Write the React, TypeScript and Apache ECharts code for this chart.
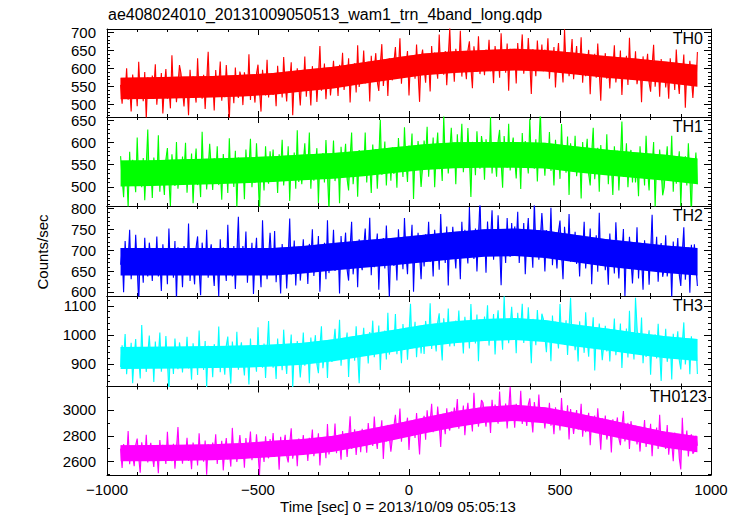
import React, { useEffect, useRef } from "react";
import * as echarts from "echarts";

// ---------------- DATA ----------------
const TITLE = "ae408024010_20131009050513_wam1_trn_4band_long.qdp";
const X_NAME = "Time [sec] 0 = 2013/10/09 05:05:13";
const Y_NAME = "Counts/sec";
const X_TICKS = [-1000, -500, 0, 500, 1000];

// light-curve samples, one every 5 s starting at t = -955 s
const TIME_START = -955;
const TIME_STEP = 5;

// sample times of the dense core outline of each trace
const BAND_T = [-955, -850, -750, -650, -550, -450, -350, -250, -150, -50, 50, 150, 250, 350, 450, 550, 650, 750, 850, 955];

const PANEL_NAMES = ["TH0", "TH1", "TH2", "TH3", "TH0123"];
const PANEL_COLORS = ["#ff0000", "#00ff00", "#0000ff", "#00ffff", "#ff00ff"];
const Y_MIN = [466, 457, 590, 822, 2497];
const Y_MAX = [710, 657, 806, 1134, 3181];
const Y_MAJOR = [
  [500, 550, 600, 650, 700],
  [500, 550, 600, 650],
  [600, 650, 700, 750, 800],
  [900, 1000, 1100],
  [2600, 2800, 3000],
];
const Y_MINOR_STEP = [10, 10, 10, 20, 100];

const th0 = [
  555, 503, 574, 531, 601, 514, 549, 481, 584, 538, 566, 496, 619, 524, 559, 510, 591, 460, 576, 535,
  521, 581, 542, 612, 500, 564, 528, 588, 476, 553, 599, 517, 546, 490, 637, 532, 571, 507, 556, 610,
  587, 538, 495, 569, 555, 471, 597, 523, 579, 544, 506, 629, 530, 562, 517, 583, 488, 566, 647, 527,
  543, 575, 484, 596, 529, 554, 620, 511, 564, 521, 610, 540, 455, 579, 560, 504, 603, 536, 519, 592,
  573, 499, 590, 559, 530, 640, 513, 576, 548, 506, 586, 611, 537, 481, 597, 555, 526, 625, 520, 569,
  587, 527, 566, 496, 608, 544, 580, 520, 632, 555, 509, 591, 562, 618, 471, 576, 537, 601, 552, 498,
  575, 543, 634, 522, 589, 564, 498, 607, 554, 597, 508, 578, 663, 539, 558, 614, 515, 582, 599, 526,
  570, 622, 551, 594, 524, 611, 576, 644, 541, 587, 559, 629, 506, 601, 566, 615, 534, 665, 549, 590,
  576, 650, 559, 590, 619, 509, 636, 573, 601, 643, 563, 538, 612, 668, 552, 594, 623, 524, 629, 580,
  568, 617, 660, 586, 600, 684, 558, 632, 576, 611, 649, 526, 625, 593, 638, 572, 667, 589, 508, 628,
  653, 604, 561, 635, 621, 537, 663, 589, 645, 610, 572, 695, 596, 628, 583, 649, 554, 632, 713, 593,
  638, 564, 655, 624, 595, 705, 578, 641, 613, 571, 651, 676, 602, 546, 662, 620, 591, 690, 585, 634,
  634, 582, 653, 610, 680, 593, 628, 560, 663, 617, 645, 575, 698, 603, 638, 589, 670, 539, 655, 614,
  618, 650, 559, 671, 604, 629, 695, 586, 639, 596, 685, 615, 530, 654, 635, 579, 678, 611, 594, 667,
  593, 653, 614, 684, 572, 636, 600, 660, 548, 625, 671, 589, 618, 562, 709, 604, 643, 579, 628, 682,
  571, 620, 663, 589, 603, 687, 561, 635, 579, 614, 652, 529, 628, 596, 641, 575, 670, 592, 511, 631,
  591, 643, 572, 615, 545, 632, 597, 665, 562, 608, 580, 650, 527, 622, 587, 636, 555, 686, 570, 611,
  574, 648, 557, 588, 617, 507, 634, 571, 599, 641, 561, 536, 610, 666, 550, 592, 621, 522, 627, 578,
  608, 548, 587, 517, 629, 565, 601, 541, 653, 576, 530, 612, 583, 639, 492, 597, 558, 622, 573, 519,
  587, 555, 646,
];
const th0CoreLo = [515, 516, 518, 520, 523, 528, 537, 545, 558, 570, 582, 588, 592, 595, 592, 584, 575, 568, 560, 550];
const th0CoreHi = [575, 576, 578, 580, 583, 588, 597, 605, 618, 630, 642, 648, 652, 655, 652, 644, 635, 628, 620, 610];

const th1 = [
  569, 520, 477, 551, 537, 453, 579, 505, 561, 526, 488, 611, 512, 544, 499, 565, 470, 548, 629, 509,
  549, 475, 566, 535, 506, 616, 489, 552, 524, 482, 562, 587, 513, 457, 573, 531, 502, 601, 496, 545,
  508, 568, 529, 599, 487, 551, 515, 575, 463, 540, 586, 504, 533, 477, 624, 519, 558, 494, 543, 597,
  545, 493, 564, 521, 591, 504, 539, 471, 574, 528, 556, 486, 609, 514, 549, 500, 581, 450, 566, 525,
  531, 563, 472, 584, 517, 542, 608, 499, 552, 509, 598, 528, 443, 567, 548, 492, 591, 524, 507, 580,
  532, 584, 513, 556, 486, 573, 538, 606, 503, 549, 521, 591, 468, 563, 528, 577, 496, 627, 511, 552,
  506, 555, 598, 524, 538, 622, 496, 570, 514, 549, 587, 464, 563, 531, 576, 510, 605, 527, 446, 566,
  530, 604, 513, 544, 573, 463, 590, 527, 555, 597, 517, 492, 566, 622, 506, 548, 577, 478, 583, 534,
  563, 531, 622, 510, 577, 552, 486, 595, 542, 585, 496, 566, 651, 527, 546, 602, 503, 570, 587, 514,
  589, 529, 568, 498, 610, 546, 582, 522, 634, 557, 511, 593, 564, 620, 473, 578, 539, 603, 554, 500,
  544, 604, 565, 635, 523, 587, 551, 611, 499, 576, 622, 540, 569, 513, 660, 555, 594, 530, 579, 633,
  565, 597, 506, 618, 551, 576, 642, 533, 586, 543, 632, 562, 477, 601, 582, 526, 625, 558, 541, 614,
  590, 516, 607, 576, 547, 657, 530, 593, 565, 523, 603, 628, 554, 498, 614, 572, 543, 642, 537, 586,
  611, 562, 519, 593, 579, 495, 621, 547, 603, 568, 530, 653, 554, 586, 541, 607, 512, 590, 671, 551,
  577, 525, 596, 553, 623, 536, 571, 503, 606, 560, 588, 518, 641, 546, 581, 532, 613, 482, 598, 557,
  541, 615, 524, 555, 584, 474, 601, 538, 566, 608, 528, 503, 577, 633, 517, 559, 588, 489, 594, 545,
  559, 527, 618, 506, 573, 548, 482, 591, 538, 581, 492, 562, 647, 523, 542, 598, 499, 566, 583, 510,
  570, 510, 549, 479, 591, 527, 563, 503, 615, 538, 492, 574, 545, 601, 454, 559, 520, 584, 535, 481,
  499, 548, 591, 517, 531, 615, 489, 563, 507, 542, 580, 457, 556, 524, 569, 503, 598, 520, 439, 559,
  525, 577, 506,
];
const th1CoreLo = [501, 502, 504, 506, 508, 511, 515, 518, 524, 531, 538, 542, 543, 543, 541, 533, 526, 520, 514, 506];
const th1CoreHi = [559, 560, 562, 564, 566, 569, 573, 576, 582, 589, 596, 600, 601, 601, 599, 591, 584, 578, 572, 564];

const th2 = [
  665, 698, 599, 722, 649, 676, 749, 630, 688, 641, 737, 660, 569, 703, 684, 622, 730, 656, 637, 718,
  684, 626, 703, 656, 733, 637, 676, 602, 714, 665, 695, 618, 752, 649, 688, 634, 722, 580, 707, 660,
  691, 611, 710, 676, 646, 764, 626, 695, 665, 618, 707, 733, 653, 592, 718, 672, 641, 749, 634, 688,
  714, 660, 614, 695, 679, 588, 726, 646, 707, 668, 626, 761, 653, 688, 637, 710, 607, 691, 780, 649,
  646, 710, 668, 745, 622, 691, 653, 718, 595, 679, 730, 641, 672, 611, 772, 656, 698, 630, 684, 742,
  680, 647, 746, 623, 696, 669, 596, 715, 657, 704, 608, 685, 776, 642, 661, 723, 615, 689, 708, 627,
  668, 726, 649, 696, 619, 715, 676, 750, 638, 687, 657, 734, 600, 703, 664, 718, 630, 772, 645, 692,
  669, 749, 650, 684, 714, 596, 734, 665, 695, 742, 653, 627, 707, 768, 642, 688, 719, 611, 726, 672,
  652, 706, 752, 671, 687, 778, 640, 720, 659, 698, 740, 605, 713, 678, 729, 656, 759, 675, 586, 717,
  726, 662, 704, 627, 750, 681, 719, 654, 777, 693, 642, 731, 700, 761, 600, 716, 674, 742, 688, 630,
  719, 661, 738, 691, 768, 672, 711, 637, 749, 700, 730, 653, 787, 684, 723, 669, 757, 615, 742, 695,
  756, 702, 656, 737, 721, 630, 768, 688, 749, 710, 668, 803, 695, 730, 679, 752, 649, 733, 822, 691,
  712, 745, 646, 769, 696, 723, 796, 677, 735, 688, 784, 707, 616, 750, 731, 669, 777, 703, 684, 765,
  693, 757, 715, 792, 669, 738, 700, 765, 642, 726, 777, 688, 719, 658, 819, 703, 745, 677, 731, 789,
  729, 649, 748, 714, 684, 802, 664, 733, 703, 656, 745, 771, 691, 630, 756, 710, 679, 787, 672, 726,
  686, 744, 667, 714, 637, 733, 694, 768, 656, 705, 675, 752, 618, 721, 682, 736, 648, 790, 663, 710,
  716, 652, 694, 617, 740, 671, 709, 644, 767, 683, 632, 721, 690, 751, 590, 706, 664, 732, 678, 620,
  689, 656, 755, 632, 705, 678, 605, 724, 666, 713, 617, 694, 785, 651, 670, 732, 624, 698, 717, 636,
  656, 736, 637, 671, 701, 583, 721, 652, 682, 729, 640, 614, 694, 755, 629, 675, 706, 598, 713, 659,
  714, 660, 614,
];
const th2CoreLo = [639, 639, 639, 639, 639, 639, 644, 651, 658, 664, 671, 678, 684, 686, 681, 671, 661, 653, 645, 639];
const th2CoreHi = [705, 705, 705, 705, 705, 705, 710, 717, 724, 730, 737, 744, 750, 752, 747, 737, 727, 719, 711, 705];

const th3 = [
  889, 964, 915, 1003, 864, 942, 898, 973, 833, 929, 986, 885, 920, 850, 1034, 903, 951, 872, 933, 998,
  912, 952, 838, 977, 895, 926, 1008, 873, 938, 886, 996, 908, 803, 956, 934, 865, 987, 904, 882, 974,
  936, 870, 958, 906, 993, 884, 928, 845, 971, 914, 949, 862, 1015, 897, 940, 879, 979, 818, 962, 910,
  946, 854, 968, 929, 893, 1029, 871, 950, 915, 863, 963, 994, 902, 832, 977, 924, 889, 1011, 880, 941,
  974, 913, 860, 952, 935, 829, 987, 895, 965, 921, 873, 1026, 904, 943, 887, 970, 851, 948, 1048, 900,
  962, 887, 936, 848, 987, 909, 953, 878, 1018, 922, 865, 966, 931, 1001, 817, 948, 900, 979, 918, 853,
  916, 1008, 894, 933, 969, 833, 991, 912, 947, 999, 899, 868, 960, 1030, 885, 938, 973, 851, 982, 921,
  907, 968, 1021, 929, 946, 1052, 894, 986, 916, 960, 1008, 855, 977, 938, 994, 911, 1030, 933, 833, 981,
  958, 1024, 936, 988, 901, 1010, 966, 1049, 923, 980, 945, 1032, 879, 997, 954, 1015, 915, 1076, 932, 984,
  998, 958, 1072, 933, 1015, 984, 902, 1037, 972, 1024, 914, 1002, 1107, 954, 976, 1045, 923, 1006, 1028, 936,
  1026, 934, 1048, 1009, 973, 1109, 951, 1030, 995, 943, 1043, 1074, 982, 912, 1057, 1004, 969, 1091, 960, 1021,
  1027, 961, 1049, 997, 1084, 975, 1019, 936, 1062, 1005, 1040, 953, 1106, 988, 1031, 970, 1070, 909, 1053, 1001,
  988, 1063, 1014, 1102, 963, 1041, 997, 1072, 932, 1028, 1085, 984, 1019, 949, 1133, 1002, 1050, 971, 1032, 1097,
  1011, 1051, 937, 1076, 994, 1025, 1107, 972, 1037, 985, 1095, 1007, 902, 1055, 1033, 964, 1086, 1003, 981, 1073,
  1054, 993, 940, 1032, 1015, 909, 1067, 975, 1045, 1001, 953, 1106, 984, 1023, 967, 1050, 931, 1028, 1128, 980,
  1022, 947, 996, 908, 1047, 969, 1013, 938, 1078, 982, 925, 1026, 991, 1061, 877, 1008, 960, 1039, 978, 913,
  965, 1031, 943, 995, 908, 1017, 973, 1056, 930, 987, 952, 1039, 886, 1004, 961, 1022, 922, 1083, 939, 991,
  915, 1128, 1029, 937, 954, 1060, 902, 994, 924, 968, 1016, 863, 985, 946, 1002, 919, 1038, 941, 841, 989,
  929, 1021, 907, 946, 982, 846, 1004, 925, 960, 1012, 912, 881, 973, 1043, 898, 951, 986, 864, 995, 934,
  939, 979, 865,
];
const th3CoreLo = [882, 883, 884, 886, 887, 891, 897, 909, 925, 942, 959, 971, 979, 982, 975, 960, 947, 932, 919, 910];
const th3CoreHi = [958, 959, 960, 962, 963, 967, 973, 985, 1001, 1018, 1035, 1047, 1055, 1058, 1051, 1036, 1023, 1008, 995, 986];

const th0123 = [
  2701, 2551, 2736, 2672, 2616, 2836, 2580, 2708, 2651, 2565, 2729, 2779, 2629, 2515, 2750, 2665, 2607, 2808, 2594, 2694,
  2745, 2645, 2560, 2710, 2681, 2511, 2767, 2618, 2731, 2660, 2582, 2831, 2631, 2696, 2603, 2738, 2546, 2703, 2867, 2624,
  2692, 2585, 2728, 2641, 2784, 2606, 2677, 2541, 2748, 2656, 2713, 2570, 2820, 2627, 2699, 2599, 2763, 2499, 2734, 2648,
  2627, 2747, 2669, 2812, 2583, 2712, 2640, 2761, 2533, 2690, 2783, 2618, 2676, 2562, 2861, 2647, 2725, 2598, 2698, 2805,
  2676, 2739, 2554, 2783, 2647, 2697, 2833, 2612, 2719, 2632, 2811, 2668, 2498, 2748, 2712, 2597, 2797, 2661, 2626, 2775,
  2672, 2822, 2637, 2701, 2757, 2537, 2793, 2665, 2722, 2808, 2644, 2594, 2744, 2858, 2623, 2708, 2766, 2565, 2779, 2679,
  2698, 2805, 2662, 2749, 2606, 2784, 2713, 2849, 2642, 2734, 2677, 2820, 2570, 2763, 2691, 2791, 2627, 2891, 2656, 2742,
  2772, 2709, 2894, 2665, 2801, 2751, 2615, 2836, 2729, 2816, 2637, 2780, 2950, 2700, 2736, 2851, 2651, 2787, 2822, 2673,
  2855, 2735, 2813, 2670, 2899, 2770, 2842, 2721, 2949, 2792, 2699, 2864, 2806, 2920, 2621, 2835, 2757, 2884, 2784, 2677,
  2777, 2877, 2962, 2812, 2841, 3011, 2755, 2904, 2791, 2862, 2940, 2691, 2891, 2826, 2919, 2784, 2976, 2819, 2655, 2898,
  2891, 2954, 2769, 2998, 2862, 2912, 3048, 2827, 2934, 2847, 3026, 2883, 2713, 2963, 2927, 2812, 3012, 2876, 2841, 2990,
  2899, 3019, 2941, 3084, 2855, 2984, 2912, 3033, 2805, 2962, 3055, 2890, 2948, 2834, 3133, 2919, 2997, 2870, 2970, 3077,
  3056, 2956, 2871, 3021, 2992, 2822, 3078, 2929, 3042, 2971, 2893, 3142, 2942, 3007, 2914, 3049, 2857, 3014, 3178, 2935,
  3012, 2862, 3047, 2983, 2927, 3147, 2891, 3019, 2962, 2876, 3040, 3090, 2940, 2826, 3061, 2976, 2918, 3119, 2905, 3005,
  2964, 2857, 3000, 2913, 3056, 2878, 2949, 2813, 3020, 2928, 2985, 2842, 3092, 2899, 2971, 2871, 3035, 2771, 3006, 2920,
  2814, 2914, 2999, 2849, 2878, 3048, 2792, 2941, 2828, 2899, 2977, 2728, 2928, 2863, 2956, 2821, 3013, 2856, 2692, 2935,
  2806, 2956, 2771, 2835, 2891, 2671, 2927, 2799, 2856, 2942, 2778, 2728, 2878, 2992, 2757, 2842, 2900, 2699, 2913, 2813,
  2770, 2877, 2734, 2821, 2678, 2856, 2785, 2921, 2714, 2806, 2749, 2892, 2642, 2835, 2763, 2863, 2699, 2963, 2728, 2814,
  2761, 2698, 2883, 2654, 2790, 2740, 2604, 2825, 2718, 2805, 2626, 2540, 2939, 2689, 2725, 2840, 2640, 2776, 2811, 2662,
  2681, 2801, 2723,
];
const th0123CoreLo = [2603, 2604, 2607, 2611, 2621, 2637, 2652, 2677, 2720, 2768, 2818, 2865, 2901, 2915, 2897, 2855, 2805, 2755, 2708, 2673];
const th0123CoreHi = [2727, 2728, 2731, 2735, 2745, 2761, 2776, 2801, 2844, 2892, 2942, 2989, 3025, 3039, 3021, 2979, 2929, 2879, 2832, 2797];

const SERIES = [th0, th1, th2, th3, th0123];
const CORE_LO = [th0CoreLo, th1CoreLo, th2CoreLo, th3CoreLo, th0123CoreLo];
const CORE_HI = [th0CoreHi, th1CoreHi, th2CoreHi, th3CoreHi, th0123CoreHi];

// ---------------- LAYOUT ----------------
const W = 741;
const H = 516;
const GRID_LEFT = 107;
const GRID_W = 604;
const PANEL_TOPS = [29, 117, 206, 296, 386.5];
const PANEL_BOTTOM = 475;
const FONT = "'Liberation Sans', Arial, Helvetica, sans-serif";
const LABEL_X = [703, 703, 703, 703, 707];

function minorValues(i: number) {
  const vals: number[] = [];
  const s = Y_MINOR_STEP[i];
  for (let v = Math.ceil(Y_MIN[i] / s) * s; v <= Y_MAX[i]; v += s) {
    if (!Y_MAJOR[i].includes(v)) vals.push(v);
  }
  return vals;
}

// filled polygon: `upper` points left-to-right, then `lower` points right-to-left
function polygonSeries(i: number, upper: number[][], lower: number[][], color: string, opacity: number) {
  return {
    type: "custom",
    xAxisIndex: 2 * i,
    yAxisIndex: 4 * i,
    clip: true,
    silent: true,
    data: [[upper[0][0], upper[0][1]]],
    renderItem: (_params: any, api: any) => {
      const pts: number[][] = [];
      upper.forEach((p) => pts.push(api.coord(p)));
      for (let k = lower.length - 1; k >= 0; k--) pts.push(api.coord(lower[k]));
      return { type: "polygon", shape: { points: pts }, style: { fill: color, opacity, stroke: "none" } };
    },
  };
}

function buildOption() {
  const grids: any[] = [];
  const xAxes: any[] = [];
  const yAxes: any[] = [];
  const series: any[] = [];
  const graphics: any[] = [];
  const axisLine = { show: true, onZero: false, lineStyle: { color: "#000", width: 1 } };
  const noLine = { show: false, onZero: false };

  for (let i = 0; i < 5; i++) {
    const top = PANEL_TOPS[i];
    const bottom = i < 4 ? PANEL_TOPS[i + 1] : PANEL_BOTTOM;
    grids.push({ left: GRID_LEFT, width: GRID_W, top, height: bottom - top, containLabel: false });
    const last = i === 4;
    xAxes.push({
      type: "value", gridIndex: i, position: "bottom", min: -1000, max: 1000, interval: 500,
      axisLine,
      axisTick: { show: true, inside: true, length: 6, lineStyle: { color: "#000" } },
      minorTick: { show: true, splitNumber: 5, length: 3, lineStyle: { color: "#000" } },
      axisLabel: {
        show: last, color: "#000", fontSize: 15, fontFamily: FONT, margin: 7,
        formatter: (v: number) => (v < 0 ? "\u2212" + Math.abs(v) : String(v)),
        customValues: X_TICKS,
      },
      splitLine: { show: false },
    });
    xAxes.push({
      type: "value", gridIndex: i, position: "top", min: -1000, max: 1000, interval: 500,
      axisLine,
      axisTick: { show: true, inside: true, length: 6, lineStyle: { color: "#000" } },
      minorTick: { show: true, splitNumber: 5, length: 3, lineStyle: { color: "#000" } },
      axisLabel: { show: false },
      splitLine: { show: false },
    });
    const minors = minorValues(i);
    const yCommon = { type: "value", gridIndex: i, min: Y_MIN[i], max: Y_MAX[i], splitLine: { show: false } };
    yAxes.push({
      ...yCommon, position: "left", axisLine,
      axisTick: { show: true, inside: true, length: 7, customValues: Y_MAJOR[i], lineStyle: { color: "#000" } },
      axisLabel: {
        show: true, color: "#000", fontSize: 15, fontFamily: FONT, margin: 11, lineHeight: 12,
        customValues: Y_MAJOR[i], formatter: (v: number) => String(v),
      },
    });
    yAxes.push({
      ...yCommon, position: "left", axisLine: noLine,
      axisTick: { show: true, inside: true, length: 3, customValues: minors, lineStyle: { color: "#000" } },
      axisLabel: { show: false },
    });
    yAxes.push({
      ...yCommon, position: "right", axisLine,
      axisTick: { show: true, inside: true, length: 7, customValues: Y_MAJOR[i], lineStyle: { color: "#000" } },
      axisLabel: { show: false },
    });
    yAxes.push({
      ...yCommon, position: "right", axisLine: noLine,
      axisTick: { show: true, inside: true, length: 3, customValues: minors, lineStyle: { color: "#000" } },
      axisLabel: { show: false },
    });

    const color = PANEL_COLORS[i];
    const linePts = SERIES[i].map((v, k) => [TIME_START + k * TIME_STEP, v]);
    const coreHiPts = BAND_T.map((t, k) => [t, CORE_HI[i][k]]);
    const coreLoPts = BAND_T.map((t, k) => [t, CORE_LO[i][k]]);
    // fill swept by the excursions of the trace
    series.push(polygonSeries(i, linePts, coreHiPts, color, 0.65));
    // dense core where the samples overlap
    series.push(polygonSeries(i, coreHiPts, coreLoPts, color, 1));
    series.push({
      type: "line", name: PANEL_NAMES[i], xAxisIndex: 2 * i, yAxisIndex: 4 * i,
      data: linePts, symbol: "none", clip: true,
      lineStyle: { color, width: 1.1 },
    });

    graphics.push({
      type: "text", x: LABEL_X[i], y: top + 9.5,
      style: { text: PANEL_NAMES[i], fill: "#000", font: `16px ${FONT}`, align: "right", verticalAlign: "middle" },
      z: 100,
    });
  }

  graphics.push({
    type: "text", x: 108, y: 14,
    style: { text: TITLE, fill: "#000", font: `16px ${FONT}`, align: "left", verticalAlign: "middle" },
  });
  graphics.push({
    type: "text", x: 42, y: 252, rotation: Math.PI / 2,
    style: { text: Y_NAME, fill: "#000", font: `15px ${FONT}`, align: "center", verticalAlign: "middle" },
  });
  graphics.push({
    type: "text", x: 398, y: 506,
    style: { text: X_NAME, fill: "#000", font: `15px ${FONT}`, align: "center", verticalAlign: "middle" },
  });

  return {
    animation: false,
    backgroundColor: "#ffffff",
    grid: grids,
    xAxis: xAxes,
    yAxis: yAxes,
    series,
    graphic: graphics,
  };
}

export default function App() {
  const ref = useRef<HTMLDivElement>(null);
  useEffect(() => {
    if (!ref.current) return;
    const chart = echarts.init(ref.current, null, { renderer: "svg" });
    chart.setOption(buildOption() as any);
    return () => chart.dispose();
  }, []);
  return (
    <div
      ref={ref}
      style={{ position: "fixed", left: 0, top: 0, width: W, height: H, background: "#fff" }}
    />
  );
}
